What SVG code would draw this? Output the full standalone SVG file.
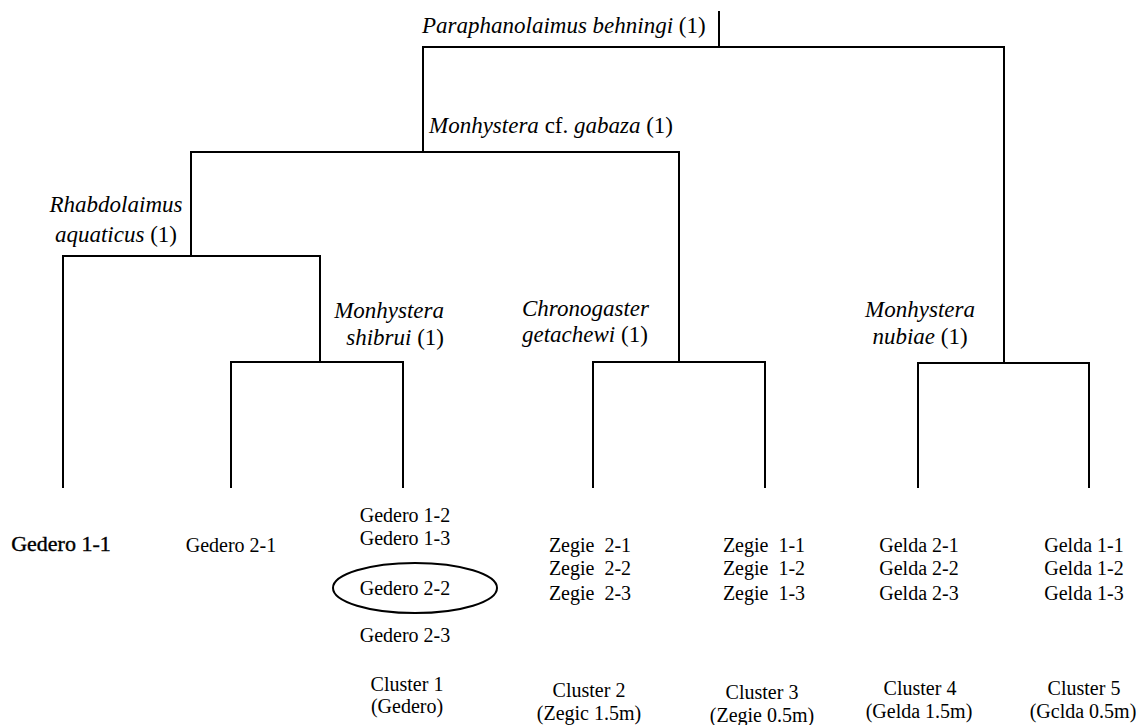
<svg xmlns="http://www.w3.org/2000/svg" width="1139" height="725" viewBox="0 0 1139 725" font-family="'Liberation Serif', 'Times New Roman', Times, 'DejaVu Serif', serif">
<style>
text{font-family:'Liberation Serif','Times New Roman',Times,'DejaVu Serif',serif;fill:#000}
.sp{font-size:23px}
.it{font-style:italic}
.lb{font-size:20px;text-anchor:middle}
.big{font-size:22px;stroke:#000;stroke-width:0.4}
.ln{stroke:#000;stroke-width:2;fill:none;stroke-linecap:square}
</style>
<rect width="1139" height="725" fill="#fff"/>
<g id="connectors" class="ln">
<path d="M719 12V47M423 47H1004M423 47V152M191 152H679M191 152V256M63 256H320M63 256V487M320 256V362M231 362H403M231 362V487M403 362V487M679 152V362M593 362H765M593 362V487M765 362V487M1004 47V363M918 363H1089M918 363V487M1089 363V487"/>
</g>
<g id="node-paraphanolaimus">
<text class="sp" x="422" y="33"><tspan class="it">Paraphanolaimus behningi</tspan> (1)</text>
</g>
<g id="node-gabaza">
<text class="sp" x="429" y="133"><tspan class="it">Monhystera</tspan> cf. <tspan class="it">gabaza</tspan> (1)</text>
</g>
<g id="node-rhabdolaimus">
<text class="sp it" x="116" y="212" text-anchor="middle">Rhabdolaimus</text>
<text class="sp" x="116" y="242" text-anchor="middle"><tspan class="it">aquaticus</tspan> (1)</text>
</g>
<g id="node-shibrui">
<text class="sp it" x="444" y="318" text-anchor="end">Monhystera</text>
<text class="sp" x="444" y="345" text-anchor="end"><tspan class="it">shibrui</tspan> (1)</text>
</g>
<g id="node-chronogaster">
<text class="sp it" x="522" y="316">Chronogaster</text>
<text class="sp" x="522" y="342"><tspan class="it">getachewi</tspan> (1)</text>
</g>
<g id="node-nubiae">
<text class="sp it" x="920" y="317" text-anchor="middle">Monhystera</text>
<text class="sp" x="920" y="344" text-anchor="middle"><tspan class="it">nubiae</tspan> (1)</text>
</g>
<g id="leaf-gedero-1-1">
<text class="lb big" x="61" y="551">Gedero 1-1</text>
</g>
<g id="leaf-gedero-2-1">
<text class="lb" x="231" y="552">Gedero 2-1</text>
</g>
<g id="cluster-1">
<text class="lb" x="405" y="522">Gedero 1-2</text>
<text class="lb" x="405" y="545">Gedero 1-3</text>
<ellipse cx="415" cy="588" rx="82" ry="25" fill="none" stroke="#000" stroke-width="2"/>
<text class="lb" x="405" y="595">Gedero 2-2</text>
<text class="lb" x="405" y="642">Gedero 2-3</text>
<text class="lb" x="407" y="691">Cluster 1</text>
<text class="lb" x="407" y="713">(Gedero)</text>
</g>
<g id="cluster-2">
<text class="lb" x="590" y="552" xml:space="preserve">Zegie  2-1</text>
<text class="lb" x="590" y="575" xml:space="preserve">Zegie  2-2</text>
<text class="lb" x="590" y="600" xml:space="preserve">Zegie  2-3</text>
<text class="lb" x="589" y="697">Cluster 2</text>
<text class="lb" x="589" y="720">(Zegic 1.5m)</text>
</g>
<g id="cluster-3">
<text class="lb" x="764" y="552" xml:space="preserve">Zegie  1-1</text>
<text class="lb" x="764" y="575" xml:space="preserve">Zegie  1-2</text>
<text class="lb" x="764" y="600" xml:space="preserve">Zegie  1-3</text>
<text class="lb" x="762" y="699">Cluster 3</text>
<text class="lb" x="762" y="722">(Zegie 0.5m)</text>
</g>
<g id="cluster-4">
<text class="lb" x="919" y="552">Gelda 2-1</text>
<text class="lb" x="919" y="575">Gelda 2-2</text>
<text class="lb" x="919" y="600">Gelda 2-3</text>
<text class="lb" x="920" y="695">Cluster 4</text>
<text class="lb" x="919" y="718">(Gelda 1.5m)</text>
</g>
<g id="cluster-5">
<text class="lb" x="1084" y="552">Gelda 1-1</text>
<text class="lb" x="1084" y="575">Gelda 1-2</text>
<text class="lb" x="1084" y="600">Gelda 1-3</text>
<text class="lb" x="1084" y="695">Cluster 5</text>
<text class="lb" x="1083" y="718">(Gclda 0.5m)</text>
</g>
</svg>
